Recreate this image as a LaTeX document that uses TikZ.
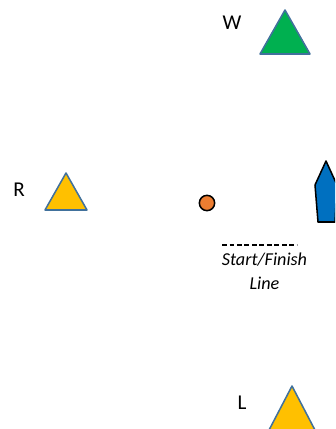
\documentclass[tikz,border=0pt]{standalone}
\usepackage{fontspec}
\setmainfont{Carlito}
\usetikzlibrary{positioning, calc}
\definecolor{markgreen}{HTML}{00B050}
\definecolor{markgold}{HTML}{FFC000}
\definecolor{markedge}{HTML}{41719C}
\definecolor{pinorange}{HTML}{ED7D31}
\definecolor{boatblue}{HTML}{0070C0}

\begin{document}
\begin{tikzpicture}[x=0.03cm, y=-0.03cm,
    buoy/.style={draw=markedge, line width=1.3pt, line join=round},
    letter/.style={font=\fontsize{18}{20}\selectfont}]
\useasboundingbox (0,0) rectangle (335,429);
\clip (0,0) rectangle (335,429);

% course marks (triangles)
\coordinate (windward) at (285,10);
\coordinate (rounding) at (66,173);
\coordinate (leeward)  at (292,386);
\draw[buoy, fill=markgreen] (windward) -- ++(25,44) -- ++(-50,0) -- cycle;
\draw[buoy, fill=markgold]  (rounding) -- ++(21,37) -- ++(-42,0) -- cycle;
\draw[buoy, fill=markgold]  (leeward)  -- ++(24,46) -- ++(-48,0) -- cycle;

\node[letter] (w-label) at (232,23)  {W};
\node[letter] (r-label) at (19,190)  {R};
\node[letter] (l-label) at (242,403) {L};

% pin end and committee boat
\node[circle, draw, line width=1.3pt, fill=pinorange, inner sep=0pt,
      minimum size=0.46cm] (pin) at (207,203) {};
\draw[fill=boatblue, line width=1.3pt, line join=round]
    (318,222) -- (315,185) -- (326,161) -- (337,185) -- (335,222) -- cycle;

% start/finish line
\coordinate (line-left)  at (222,245);
\coordinate (line-right) at (297,245);
\draw[dash pattern=on 4pt off 2.4pt, line width=1pt] (line-left) -- (line-right);
\coordinate (line-mid) at ($(line-left)!0.5!(line-right)$);
\node[below=0.12cm of line-mid, xshift=0.15cm, align=center,
      font=\fontsize{15.5}{20}\selectfont\itshape] (line-text) {Start/Finish\\Line};

\end{tikzpicture}
\end{document}
